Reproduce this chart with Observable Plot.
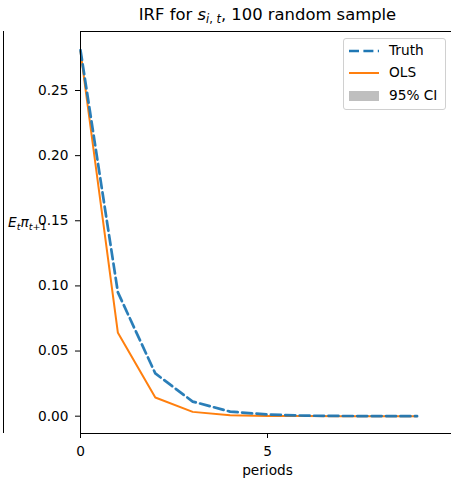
<!DOCTYPE html>
<html>
<head>
<meta charset="utf-8">
<script src="https://cdn.jsdelivr.net/npm/d3@7"></script>
<script src="https://cdn.jsdelivr.net/npm/@observablehq/plot@0.6"></script>
<style>
  html, body { margin: 0; padding: 0; background: #fff; overflow: hidden; }
  #wrap { position: relative; width: 451px; height: 479px; overflow: hidden; font-family: "DejaVu Sans", sans-serif; color: #000; }
  #chart { position: absolute; left: 0; top: 0; width: 455px; height: 479px; }
  .abs { position: absolute; white-space: nowrap; line-height: 1; }
  #title { font-size: 16.4px; left: 0; width: 535px; text-align: center; top: 7px; }
  #xlabel { font-size: 13.7px; left: 0; width: 535px; text-align: center; top: 464px; }
  #ylabel { font-size: 13.7px; left: 8px; top: 216px; }
  #legend { left: 343px; top: 38px; width: 103px; height: 72px; border: 1px solid #d0d0d0; border-radius: 3px; background: rgba(255,255,255,0.8); box-sizing: border-box; }
  .lrow { position: absolute; left: 0; height: 16px; font-size: 13.7px; }
  .lrow span.t { position: absolute; left: 45px; top: 1px; }
  .lrow .sw { position: absolute; left: 5px; width: 30px; }
  #neighbor { left: 3px; top: 31px; width: 1px; height: 402px; background: #000; }
  sub { font-size: 70%; vertical-align: -0.3em; line-height: 0; }
  i { font-family: "DejaVu Sans", sans-serif; font-style: oblique; }
</style>
</head>
<body>
<div id="wrap">
  <div id="chart"></div>
  <div class="abs" id="neighbor"></div>
  <div class="abs" id="title">IRF for <i>s</i><sub><i>i</i>, <i>t</i></sub>, 100 random sample</div>
  <div class="abs" id="xlabel">periods</div>
  <div class="abs" id="ylabel"><i>E</i><sub><i>t</i></sub><i>π</i><sub><i>t</i>+1</sub></div>
  <div class="abs" id="legend">
    <div class="lrow" style="top:4px"><svg class="sw" width="30" height="16" style="top:0"><line x1="0" x2="30" y1="8" y2="8" stroke="#1f77b4" stroke-width="2.7" stroke-dasharray="10,4.4"/></svg><span class="t">Truth</span></div>
    <div class="lrow" style="top:26px"><svg class="sw" width="30" height="16" style="top:0"><line x1="0" x2="30" y1="8" y2="8" stroke="#ff7f0e" stroke-width="2"/></svg><span class="t">OLS</span></div>
    <div class="lrow" style="top:49px"><svg class="sw" width="30" height="16" style="top:0"><rect x="0" y="3" width="30" height="10" fill="#bfbfbf"/></svg><span class="t">95% CI</span></div>
  </div>
</div>
<script>
// Data
const periods = [0, 1, 2, 3, 4, 5, 6, 7, 8, 9];
const truth   = [0.281, 0.095, 0.0328, 0.0112, 0.0035, 0.0013, 0.0004, 0.00015, 0.00005, 0.00002];
const ols     = [0.280, 0.064, 0.0143, 0.0033, 0.0007, 0.00016, 0.00004, 0.00001, 0.0, 0.0];
const yTicks  = [0, 0.05, 0.10, 0.15, 0.20, 0.25];
const xTicks  = [0, 5];

const rows = periods.map((p, i) => ({p, truth: truth[i], ols: ols[i]}));

const chart = Plot.plot({
  width: 455,
  height: 479,
  marginLeft: 80,
  marginRight: 1,
  marginTop: 31,
  marginBottom: 46,
  style: {fontFamily: "DejaVu Sans, sans-serif", fontSize: "13.7px", color: "#000", background: "transparent", maxWidth: "none"},
  x: {domain: [0, 10]},
  y: {domain: [-0.0133, 0.2953]},
  marks: [
    Plot.line(rows, {x: "p", y: "ols", stroke: "#ff7f0e", strokeWidth: 2}),
    Plot.line(rows, {x: "p", y: "truth", stroke: "#1f77b4", strokeWidth: 2.7, strokeDasharray: "10,4.4", strokeOpacity: 0.95}),
    Plot.frame({stroke: "#000", strokeWidth: 1}),
    Plot.axisY(yTicks, {tickSize: 5, tickPadding: 7, tickFormat: d3.format(".2f"), label: null, stroke: "#000"}),
    Plot.axisX(xTicks, {tickSize: 5, tickPadding: 8, tickFormat: d => String(d), label: null, stroke: "#000"})
  ]
});
chart.style.maxWidth = "none";
chart.style.width = "455px";
chart.style.height = "479px";
document.getElementById("chart").appendChild(chart);
</script>
</body>
</html>
